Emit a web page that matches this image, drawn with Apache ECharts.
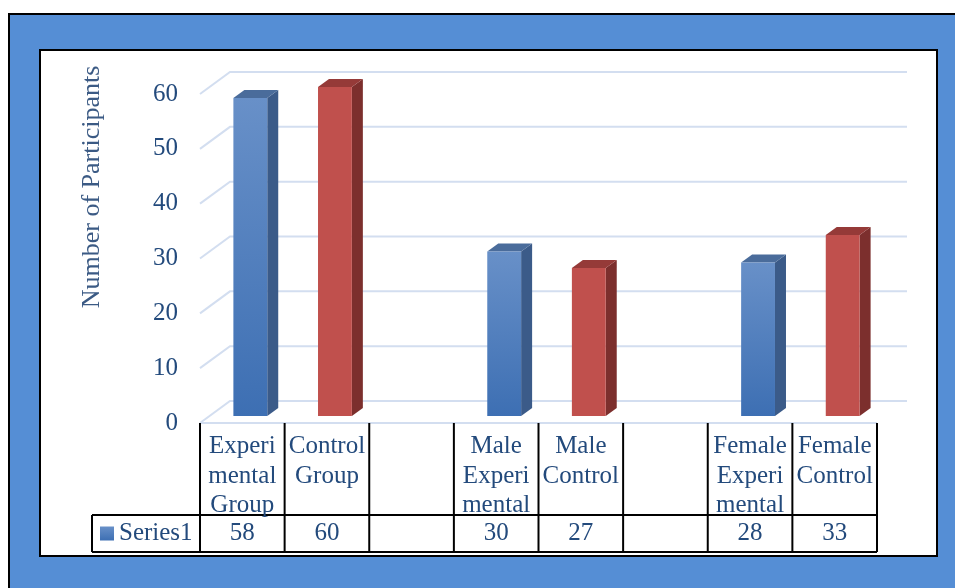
<!DOCTYPE html>
<html><head><meta charset="utf-8">
<script src="https://cdn.jsdelivr.net/npm/echarts@6/dist/echarts.min.js"></script>
<style>html,body{margin:0;padding:0;background:#fff}#c{width:955px;height:588px}</style>
</head><body><div id="c"></div>
<script>
// ---- data ----
const categories = ['Experimental Group', 'Control Group', '', 'Male Experimental', 'Male Control', '', 'Female Experimental', 'Female Control'];
const categoryLabels = ['Experi\nmental\nGroup', 'Control\nGroup', '', 'Male\nExperi\nmental', 'Male\nControl', '', 'Female\nExperi\nmental', 'Female\nControl'];
const series1 = [58, 60, null, 30, 27, null, 28, 33];
const yTicks = [0, 10, 20, 30, 40, 50, 60];
const seriesName = 'Series1';
const yTitle = 'Number of Participants';

// ---- style ----
const FONT = 'Liberation Serif';
const TXT = '#234a7c';
const GRIDC = '#d3def0';
const DX = 30, DY = -22;      // floor / wall depth
const FX = 8, FY = -7;        // bar front face offset
const BX = 11, BY = -8;       // bar depth
const BLUE = {front: new echarts.graphic.LinearGradient(0,0,0,1,[{offset:0,color:'#6890c8'},{offset:1,color:'#3d6fb3'}]), side:'#3b5b89', top:'#4a6c9b'};
const RED = {front:'#c0504d', side:'#7c2f2d', top:'#953a38'};

const chart = echarts.init(document.getElementById('c'), null, {renderer:'canvas'});

const gridRender = function (params, api) {
  const v = api.value(1);
  const p = api.coord([0, v]);
  const y = p[1];
  const cs = params.coordSys;
  const x0 = cs.x, w = cs.width;
  const children = [{
    type: 'polyline',
    shape: {points: [[x0, y], [x0 + DX, y + DY], [x0 + DX + w, y + DY]]},
    style: {stroke: GRIDC, lineWidth: 2, fill: null}
  }];
  if (v === 0) {
    children.push({type: 'line', shape: {x1: x0, y1: y, x2: x0 + w, y2: y}, style: {stroke: GRIDC, lineWidth: 2}});
  }
  return {type: 'group', children: children};
};

const barRender = function (params, api) {
  const i = api.value(0), v = api.value(1);
  const top = api.coord([i, v]);
  const base = api.coord([i, 0]);
  const band = api.size([1, 0])[0];
  const bw = band * 0.4;
  const c = (i % 3 === 0) ? BLUE : RED;
  const xl = top[0] - bw / 2 + FX, xr = xl + bw;
  const yt = top[1] + FY, yb = base[1] + FY;
  return {type: 'group', children: [
    {type: 'polygon', shape: {points: [[xr, yt], [xr + BX, yt + BY], [xr + BX, yb + BY], [xr, yb]]}, style: {fill: c.side}},
    {type: 'polygon', shape: {points: [[xl, yt], [xl + BX, yt + BY], [xr + BX, yt + BY], [xr, yt]]}, style: {fill: c.top}},
    {type: 'rect', shape: {x: xl, y: yt, width: bw, height: yb - yt}, style: {fill: c.front}}
  ]};
};

const barData = [];
series1.forEach((v, i) => { if (v !== null) barData.push([i, v]); });

chart.setOption({
  animation: false,
  grid: {left: 200, right: 78, top: 94, bottom: 165, containLabel: false},
  xAxis: {type: 'category', data: categories, axisLine: {show: false}, axisTick: {show: false}, axisLabel: {show: false}},
  yAxis: {type: 'value', min: 0, max: 60, interval: 10, axisLine: {show: false}, axisTick: {show: false}, splitLine: {show: false},
    axisLabel: {fontFamily: FONT, fontSize: 25, color: TXT, margin: 22}},
  series: [
    {type: 'custom', name: 'grid', renderItem: gridRender, data: yTicks.map(t => [0, t]), z: 1, silent: true},
    {type: 'custom', name: seriesName, renderItem: barRender, data: barData, z: 3}
  ]
});

// ---- frame, axis title and data table ----
const c0 = chart.convertToPixel({xAxisIndex: 0}, 0);
const c1 = chart.convertToPixel({xAxisIndex: 0}, 1);
const band = c1 - c0;
const left = c0 - band / 2;
const n = categories.length;
const right = left + band * n;
const yZero = chart.convertToPixel({yAxisIndex: 0}, 0);
const rowTop = 515, rowBot = 552, legLeft = 92;
const LINE = {stroke: '#000', lineWidth: 2};

const g = [
  {type: 'rect', z: -20, shape: {x: 9, y: 14, width: 960, height: 600}, style: {fill: '#558ed5', stroke: '#000', lineWidth: 2}},
  {type: 'rect', z: -19, shape: {x: 40, y: 50, width: 897, height: 506}, style: {fill: '#fff', stroke: '#000', lineWidth: 2}},
  {type: 'text', z: 10, x: 92, y: 187, rotation: Math.PI / 2,
    style: {text: yTitle, fontFamily: FONT, fontSize: 26, fill: '#3b5a84', align: 'center', verticalAlign: 'middle'}}
];
for (let k = 0; k <= n; k++) {
  const x = left + band * k;
  g.push({type: 'line', z: 10, shape: {x1: x, y1: yZero, x2: x, y2: rowBot}, style: LINE});
}
g.push({type: 'line', z: 10, shape: {x1: legLeft, y1: rowTop, x2: right, y2: rowTop}, style: LINE});
g.push({type: 'line', z: 10, shape: {x1: legLeft, y1: rowBot, x2: right, y2: rowBot}, style: LINE});
g.push({type: 'line', z: 10, shape: {x1: legLeft, y1: rowTop, x2: legLeft, y2: rowBot}, style: LINE});
const rowMid = (rowTop + rowBot) / 2;
g.push({type: 'rect', z: 10, shape: {x: 100, y: rowMid - 7, width: 14, height: 14},
  style: {fill: new echarts.graphic.LinearGradient(0,0,0,1,[{offset:0,color:'#6890c8'},{offset:1,color:'#3d6fb3'}])}});
g.push({type: 'text', z: 10, x: 119, y: rowMid,
  style: {text: seriesName, fontFamily: FONT, fontSize: 25, fill: TXT, align: 'left', verticalAlign: 'middle'}});
for (let i = 0; i < n; i++) {
  const cx = left + band * (i + 0.5);
  g.push({type: 'text', z: 10, x: cx, y: yZero + 9,
    style: {text: categoryLabels[i], fontFamily: FONT, fontSize: 25, lineHeight: 29.5, fill: TXT, align: 'center', verticalAlign: 'top'}});
  g.push({type: 'text', z: 10, x: cx, y: rowMid,
    style: {text: series1[i] === null ? '' : String(series1[i]), fontFamily: FONT, fontSize: 25, fill: TXT, align: 'center', verticalAlign: 'middle'}});
}
chart.setOption({graphic: {elements: g}});
</script>
</body></html>
